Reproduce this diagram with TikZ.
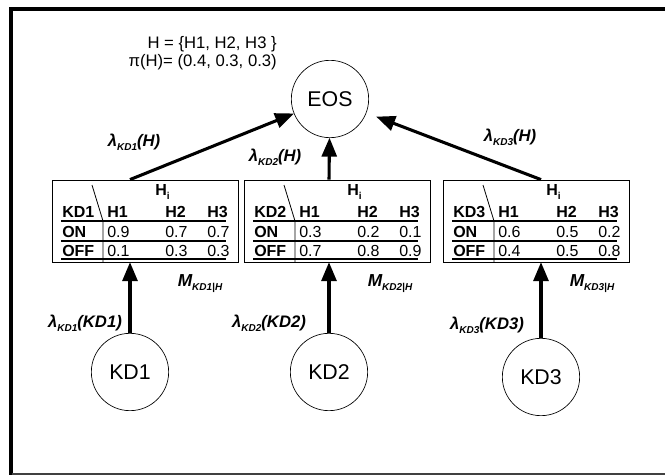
\documentclass[tikz,border=0pt]{standalone}
\usepackage{fontspec}
\setmainfont{Liberation Sans}
\usetikzlibrary{arrows}
\newcommand{\lowsub}[1]{\raisebox{-0.45ex}{\fontsize{7.5}{8}\selectfont #1}}

\begin{document}
\begin{tikzpicture}[x=0.75pt,y=-0.75pt]
	\tikzstyle{every node}=[inner sep=0pt]
	\tikzstyle{var}=[draw, circle, minimum size=58pt, line width=.5pt, font=\fontsize{16}{18}\selectfont]
	\tikzstyle{tbl}=[draw, rectangle, minimum width=139.5pt, minimum height=61.5pt, line width=.6pt]
	\tikzstyle{cell}=[anchor=west, font=\fontsize{12}{14}\selectfont\bfseries]
	\tikzstyle{val}=[anchor=west, font=\fontsize{12}{14}\selectfont]
	\tikzstyle{lbl}=[font=\fontsize{12.5}{14}\selectfont\bfseries\itshape]
	\tikzstyle{flow}=[line width=2.3pt, -triangle 45]
	\useasboundingbox (0,0) rectangle (665,475);
	\draw[line width=3pt] (10.5,475) -- (10.5,8.5) -- (665,8.5);
	\draw[black!75, line width=1pt] (12,474) -- (665,474);
	% prior of the hypotheses
	\path (277,44) node[anchor=east, font=\fontsize{12.5}{14}\selectfont] (hset) {H = \{H1, H2, H3 \}};
	\path (277,62) node[anchor=east, font=\fontsize{12.5}{14}\selectfont] (prior) {π(H)= (0.4, 0.3, 0.3)};
	\path (330,99) node[var] (eos) {EOS};
	\path (130,372) node[var] (kd1) {KD1};
	\path (329,372) node[var] (kd2) {KD2};
	\path (541,377) node[var] (kd3) {KD3};
	% the three tables
	\foreach \k/\dx/\pa/\pb/\pc/\qa/\qb/\qc in {1/0/0.9/0.7/0.7/0.1/0.3/0.3, 2/192/0.3/0.2/0.1/0.7/0.8/0.9, 3/391/0.6/0.5/0.2/0.4/0.5/0.8}{
		\begin{scope}[shift={(\dx,0)}]
			\path (145,221) node[tbl] (t\k) {};
			\draw[line width=.6pt] (92,185) -- (103,221) -- (103,262);
			\draw[line width=1.2pt] (61,221) -- (226,221) (61,241) -- (226,241) (61,259) -- (226,259);
			\path (155,192) node[cell] (hi\k) {H\lowsub{i}};
			\path (62,212) node[cell] (kdh\k) {KD\k};
			\path (107,212) node[cell] (ha\k) {H1};
			\path (165,212) node[cell] (hb\k) {H2};
			\path (207,212) node[cell] (hc\k) {H3};
			\path (62,232) node[cell] (on\k) {ON};
			\path (62,251) node[cell] (off\k) {OFF};
			\path (107,232) node[val] (pa\k) {\pa};
			\path (165,232) node[val] (pb\k) {\pb};
			\path (207,232) node[val] (pc\k) {\pc};
			\path (107,251) node[val] (qa\k) {\qa};
			\path (165,251) node[val] (qb\k) {\qb};
			\path (207,251) node[val] (qc\k) {\qc};
		\end{scope}
	}
	% messages
	\draw[flow] (kd1 |- t1.north) -- (eos);
	\draw[flow] (kd2 |- t2.north) -- (eos);
	\draw[flow, shorten >=8pt] (kd3 |- t3.north) -- (eos);
	\draw[flow] (kd1) -- (kd1 |- t1.south);
	\draw[flow] (kd2) -- (kd2 |- t2.south);
	\draw[flow] (kd3) -- (kd3 |- t3.south);
	\path (134,142) node[lbl] (lh1) {λ\lowsub{KD1}(H)};
	\path (275,157) node[lbl] (lh2) {λ\lowsub{KD2}(H)};
	\path (510,137) node[lbl] (lh3) {λ\lowsub{KD3}(H)};
	\path (85,323) node[lbl] (lk1) {λ\lowsub{KD1}(KD1)};
	\path (269,323) node[lbl] (lk2) {λ\lowsub{KD2}(KD2)};
	\path (487,325) node[lbl] (lk3) {λ\lowsub{KD3}(KD3)};
	\path (200,284) node[lbl, font=\fontsize{13}{14}\selectfont\bfseries\itshape] (m1) {M\lowsub{KD1|H}};
	\path (390,284) node[lbl, font=\fontsize{13}{14}\selectfont\bfseries\itshape] (m2) {M\lowsub{KD2|H}};
	\path (592,284) node[lbl, font=\fontsize{13}{14}\selectfont\bfseries\itshape] (m3) {M\lowsub{KD3|H}};
\end{tikzpicture}
\end{document}
